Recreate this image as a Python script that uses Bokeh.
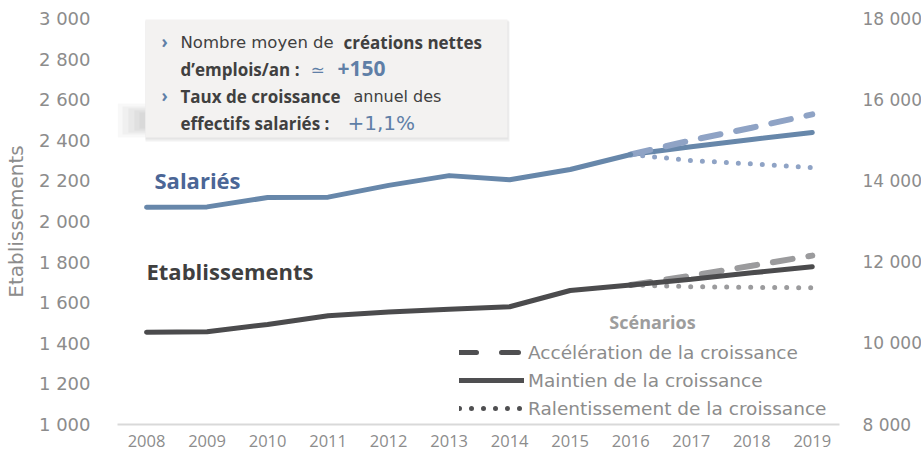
from bokeh.plotting import figure
from bokeh.models import (Range1d, LinearAxis, FixedTicker, Label, Legend,
                          LegendItem, BoxAnnotation)
from bokeh.embed import file_html
from bokeh.resources import INLINE

# ---------------- data ----------------
years_hist = [2008, 2009, 2010, 2011, 2012, 2013, 2014, 2015, 2016]
etab_hist = [1455, 1457, 1493, 1536, 1554, 1568, 1580, 1660, 1687]
sal_hist = [13350, 13360, 13590, 13600, 13890, 14130, 14030, 14280, 14650]

years_scen = [2016, 2017, 2018, 2019]
etab_accel = [1687, 1733, 1782, 1832]
etab_maint = [1687, 1716, 1747, 1777]
etab_ralent = [1687, 1679, 1676, 1673]
sal_accel = [14650, 15000, 15310, 15640]
sal_maint = [14650, 14840, 15020, 15190]
sal_ralent = [14650, 14500, 14420, 14330]

year_ticks = list(range(2008, 2020))
etab_ticks = [1000, 1200, 1400, 1600, 1800, 2000, 2200, 2400, 2600, 2800, 3000]
sal_ticks = [8000, 10000, 12000, 14000, 16000, 18000]

legend_labels = ["Accélération de la croissance", "Maintien de la croissance",
                 "Ralentissement de la croissance"]

# ---------------- styles ----------------
BLUE = "#6787aa"
BLUE_L = "#8fa3c5"
DARK = "#4b4b4d"
GREY_L = "#9b9b9d"
TICK = "#8c8c8c"
TXT = "#404040"
ACC = "#5f7fa7"
FONT = "Open Sans"
WIDE = "DejaVu Sans"

X0, X1 = 2007.52, 2019.45
FL, FR, FT, FB = 113, 835, 19, 425


def px(p):
    return X0 + (p - FL) * (X1 - X0) / (FR - FL)


def py(p):
    return 3000 - (p - FT) * 2000 / (FB - FT)


p = figure(frame_width=FR - FL, frame_height=FB - FT,
           x_range=Range1d(X0, X1), y_range=Range1d(1000, 3000),
           output_backend="svg", toolbar_location=None,
           min_border_left=FL, min_border_right=76,
           min_border_top=18, min_border_bottom=32)
p.outline_line_color = None
p.xgrid.grid_line_color = None
p.ygrid.grid_line_color = None
p.background_fill_color = "white"
p.border_fill_color = "white"

# x axis
xa = p.xaxis[0]
xa.ticker = FixedTicker(ticks=year_ticks)
xa.major_label_overrides = {y: str(y) for y in year_ticks}
xa.axis_line_color = "#d9d9d9"
xa.axis_line_width = 2
xa.major_tick_line_color = None
xa.minor_tick_line_color = None
xa.major_label_text_font = FONT
xa.major_label_text_font_size = "16.5px"
xa.major_label_text_color = TICK
xa.major_label_standoff = 4

# left axis
ya = p.yaxis[0]
ya.ticker = FixedTicker(ticks=etab_ticks)
ya.major_label_overrides = {v: f"{v:,}".replace(",", " ") for v in etab_ticks}
ya.axis_line_color = None
ya.major_tick_line_color = None
ya.minor_tick_line_color = None
ya.major_label_text_font = WIDE
ya.major_label_text_font_size = "18px"
ya.major_label_text_color = TICK
ya.major_label_standoff = 21
ya.axis_label = "Etablissements"
ya.axis_label_text_font = WIDE
ya.axis_label_text_font_size = "20px"
ya.axis_label_text_font_style = "normal"
ya.axis_label_text_color = TICK
ya.axis_label_standoff = 8

# right axis
p.extra_y_ranges = {"sal": Range1d(8000, 18000)}
ra = LinearAxis(y_range_name="sal", ticker=FixedTicker(ticks=sal_ticks))
ra.major_label_overrides = {v: f"{v:,}".replace(",", " ") for v in sal_ticks}
ra.axis_line_color = None
ra.major_tick_line_color = None
ra.minor_tick_line_color = None
ra.major_label_text_font = WIDE
ra.major_label_text_font_size = "17px"
ra.major_label_text_color = TICK
ra.major_label_standoff = 17
p.add_layout(ra, "right")

# ---------------- info box (with soft shadow) ----------------
for (l, t, b, a) in [(113, 104, 138, 0.06), (118, 107, 135, 0.07), (124, 109, 133, 0.08),
                     (130, 111, 131, 0.08), (135, 113, 129, 0.08)]:
    p.add_layout(BoxAnnotation(left=px(l), right=px(141), top=py(t), bottom=py(b),
                               fill_color="#8a8a8a", fill_alpha=a, line_color=None))
p.add_layout(BoxAnnotation(left=px(141), right=px(505), top=py(22), bottom=py(142),
                           fill_color="#d8d8d8", fill_alpha=0.35, line_color=None))
p.add_layout(BoxAnnotation(left=px(141), right=px(504), top=py(21), bottom=py(140),
                           fill_color="#d8d8d8", fill_alpha=0.45, line_color=None))
p.add_layout(BoxAnnotation(left=px(141), right=px(503), top=py(20), bottom=py(138),
                           fill_color="#f3f2f1", fill_alpha=1, line_color=None))


def lab(text, x, y, size="17px", color=TXT, bold=False, font=FONT, align="left"):
    p.add_layout(Label(x=px(x), y=py(y), text=text, text_font=font,
                       text_font_size=size, text_color=color,
                       text_font_style="bold" if bold else "normal",
                       text_align=align, text_baseline="middle"))


lab("›", 157, 42, color=ACC, bold=True)
lab("Nombre moyen de", 176, 43, size="16.5px", font=WIDE)
lab("créations nettes", 339, 43, bold=True)
lab("d’emplois/an :", 176, 70, bold=True)
lab("≃", 306, 70, color=ACC, font=WIDE)
lab("+150", 333, 69, size="21px", color=ACC, bold=True)
lab("›", 157, 96, color=ACC, bold=True)
lab("Taux de croissance", 176, 97, bold=True)
lab("annuel des", 349, 97, size="16px", font=WIDE)
lab("effectifs salariés :", 176, 124, bold=True)
lab("+1,1%", 343, 123, size="20px", color=ACC, font=WIDE)

# ---------------- lines ----------------
p.line(years_scen, sal_maint, y_range_name="sal", line_color=BLUE, line_width=5, line_cap="round")
p.line(years_scen, sal_accel, y_range_name="sal", line_color=BLUE_L, line_width=6,
       line_dash="20 16", line_cap="round")
p.line(years_scen, sal_ralent, y_range_name="sal", line_color=BLUE_L, line_width=5,
       line_dash="0 12", line_cap="round")
p.line(years_hist, sal_hist, y_range_name="sal", line_color=BLUE, line_width=5,
       line_cap="round", line_join="round")

p.line(years_scen, etab_accel, line_color=GREY_L, line_width=6, line_dash="20 16", line_cap="round")
p.line(years_scen, etab_ralent, line_color=GREY_L, line_width=5, line_dash="0 12", line_cap="round")
p.line(years_scen, etab_maint, line_color=DARK, line_width=5, line_cap="round")
p.line(years_hist, etab_hist, line_color=DARK, line_width=5, line_cap="round", line_join="round")

# series labels
lab("Salariés", 150, 180, size="22px", color="#4b6696", bold=True)
lab("Etablissements", 142, 271, size="22px", color="#3f3f3f", bold=True)

# ---------------- legend ----------------
nan = float("nan")
r1 = p.line(x=[years_scen[0]], y=[nan], line_color="#4f4f51", line_width=5,
            line_dash="17 25", line_cap="round")
r2 = p.line(x=[years_scen[0]], y=[nan], line_color="#4f4f51", line_width=5, line_cap="round")
r3 = p.line(x=[years_scen[0]], y=[nan], line_color="#4f4f51", line_width=5,
            line_dash="0 12", line_cap="round")
legend = Legend(items=[LegendItem(label=legend_labels[0], renderers=[r1]),
                       LegendItem(label=legend_labels[1], renderers=[r2]),
                       LegendItem(label=legend_labels[2], renderers=[r3])],
                location=(342, 2), orientation="vertical",
                glyph_width=65, glyph_height=28, label_height=28,
                spacing=0, padding=0, margin=0, label_standoff=4,
                background_fill_alpha=0, border_line_color=None,
                label_text_font=WIDE, label_text_font_size="18.5px",
                label_text_color=TICK)
p.add_layout(legend)
lab("Scénarios", 648, 322, size="18px", color="#9d9d9d", bold=True, align="center")

open("out.html", "w").write(file_html(p, INLINE))
